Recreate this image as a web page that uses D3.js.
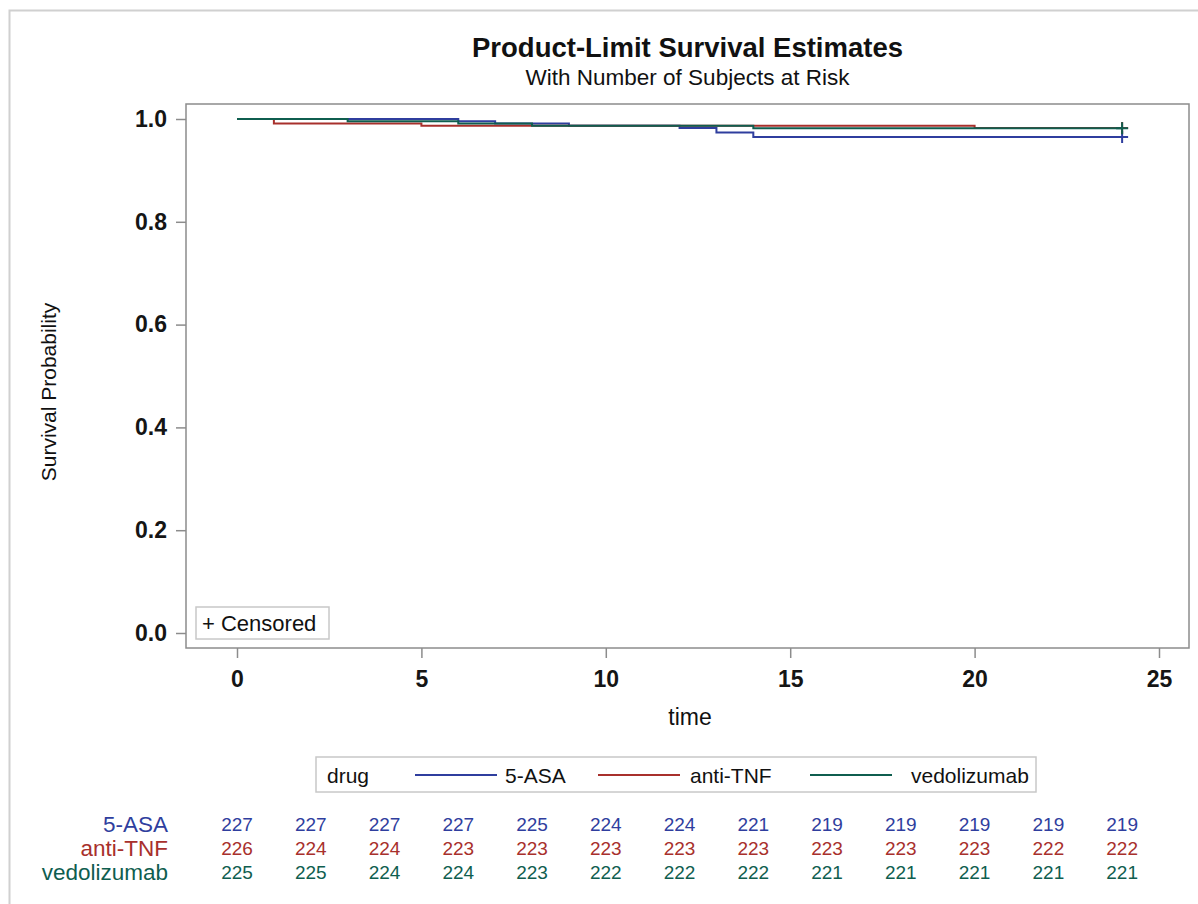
<!DOCTYPE html>
<html lang="en">
    <head>
        <meta charset="UTF-8" />
        <title>Product-Limit Survival Estimates</title>
        <script src="https://cdn.jsdelivr.net/npm/d3@7/dist/d3.min.js"></script>
    </head>
    <body style="padding: 0; margin: 0; background-color: #fff;">
        <script>
            // groups and colours
            const groups = ['5-ASA', 'anti-TNF', 'vedolizumab'];
            const colors = ['#2f3e9e', '#a8302c', '#0f5e4f'];

            // KM step points [time, survival]
            const survASA = [[0, 1], [6, 0.9956], [7, 0.9912], [9, 0.9868], [12, 0.9824], [13, 0.9736], [14, 0.9648], [24, 0.9648]];
            const survTNF = [[0, 1], [1, 0.9912], [5, 0.9868], [20, 0.9824], [24, 0.9824]];
            const survVedo = [[0, 1], [3, 0.9956], [6, 0.9911], [8, 0.9867], [14, 0.9822], [24, 0.9822]];
            const censorTimes = [24, 24, 24];

            // number at risk table
            const riskTimes = [0, 2, 4, 6, 8, 10, 12, 14, 16, 18, 20, 22, 24];
            const riskASA = [227, 227, 227, 227, 225, 224, 224, 221, 219, 219, 219, 219, 219];
            const riskTNF = [226, 224, 224, 223, 223, 223, 223, 223, 223, 223, 223, 222, 222];
            const riskVedo = [225, 225, 224, 224, 223, 222, 222, 222, 221, 221, 221, 221, 221];

            const xTicks = [0, 5, 10, 15, 20, 25];
            const yTicks = [0, 0.2, 0.4, 0.6, 0.8, 1.0];

            const series = [survASA, survTNF, survVedo];
            const risks = [riskASA, riskTNF, riskVedo];

            const font = 'Liberation Sans, Arial, sans-serif';
            const width = 1198;
            const height = 904;
            const plot = { left: 186, right: 1189, top: 104, bottom: 648 };

            const svg = d3
                .select('body')
                .append('svg')
                .attr('width', width)
                .attr('height', height)
                .style('font-family', font);

            // outer frame
            svg.append('rect')
                .attr('x', 9.5)
                .attr('y', 10.5)
                .attr('width', 1300)
                .attr('height', 1000)
                .attr('fill', 'none')
                .attr('stroke', '#d0d0d0')
                .attr('stroke-width', 2);

            const x = d3.scaleLinear().domain([0, 25]).range([237, 1159]);
            const y = d3.scaleLinear().domain([0, 1]).range([633, 119]);

            // titles
            svg.append('text')
                .attr('x', (plot.left + plot.right) / 2)
                .attr('y', 57)
                .attr('text-anchor', 'middle')
                .attr('font-size', 27.5)
                .attr('font-weight', 'bold')
                .attr('fill', '#111')
                .text('Product-Limit Survival Estimates');
            svg.append('text')
                .attr('x', (plot.left + plot.right) / 2)
                .attr('y', 85)
                .attr('text-anchor', 'middle')
                .attr('font-size', 22.5)
                .attr('fill', '#111')
                .text('With Number of Subjects at Risk');

            // axes
            const yAxis = svg.append('g')
                .attr('transform', `translate(${plot.left},0)`)
                .call(d3.axisLeft(y).tickValues(yTicks).tickFormat(d3.format('.1f')).tickSize(10).tickPadding(9));
            const xAxis = svg.append('g')
                .attr('transform', `translate(0,${plot.bottom})`)
                .call(d3.axisBottom(x).tickValues(xTicks).tickSize(10).tickPadding(13));
            [yAxis, xAxis].forEach((g) => {
                g.select('.domain').remove();
                g.selectAll('line').attr('stroke', '#8c8c8c').attr('stroke-width', 1.5);
                g.selectAll('text')
                    .attr('font-family', font)
                    .attr('font-size', 23)
                    .attr('font-weight', 'bold')
                    .attr('fill', '#151515');
            });

            // plot frame
            svg.append('rect')
                .attr('x', plot.left)
                .attr('y', plot.top)
                .attr('width', plot.right - plot.left)
                .attr('height', plot.bottom - plot.top)
                .attr('fill', 'none')
                .attr('stroke', '#8c8c8c')
                .attr('stroke-width', 1.5);

            // axis labels
            svg.append('text')
                .attr('transform', `translate(56,392) rotate(-90)`)
                .attr('text-anchor', 'middle')
                .attr('font-size', 21)
                .attr('fill', '#111')
                .text('Survival Probability');
            svg.append('text')
                .attr('x', 690)
                .attr('y', 725)
                .attr('text-anchor', 'middle')
                .attr('font-size', 23)
                .attr('fill', '#111')
                .text('time');

            // survival curves
            const line = d3.line()
                .x((d) => x(d[0]))
                .y((d) => y(d[1]))
                .curve(d3.curveStepAfter);

            series.forEach((s, i) => {
                svg.append('path')
                    .attr('d', line(s))
                    .attr('fill', 'none')
                    .attr('stroke', colors[i])
                    .attr('stroke-width', 2);
                // censor mark at last time
                const last = s[s.length - 1];
                const cx = x(censorTimes[i]);
                const cy = y(last[1]);
                svg.append('path')
                    .attr('d', `M${cx - 6},${cy}H${cx + 6}M${cx},${cy - 6}V${cy + 6}`)
                    .attr('stroke', colors[i])
                    .attr('stroke-width', 2);
            });

            // censored legend
            svg.append('rect')
                .attr('x', 196)
                .attr('y', 607)
                .attr('width', 133)
                .attr('height', 32)
                .attr('fill', '#fff')
                .attr('stroke', '#c8c8c8')
                .attr('stroke-width', 1.5);
            svg.append('text')
                .attr('x', 202)
                .attr('y', 631)
                .attr('font-size', 22)
                .attr('fill', '#111')
                .text('+ Censored');

            // group legend
            const legend = svg.append('g');
            legend.append('rect')
                .attr('x', 316)
                .attr('y', 757)
                .attr('width', 720)
                .attr('height', 35)
                .attr('fill', '#fff')
                .attr('stroke', '#c8c8c8')
                .attr('stroke-width', 1.5);
            legend.append('text')
                .attr('x', 327)
                .attr('y', 783)
                .attr('font-size', 21)
                .attr('fill', '#111')
                .text('drug');
            const legendX = [415, 598, 810];
            const legendTextX = [505, 690, 911];
            groups.forEach((g, i) => {
                legend.append('line')
                    .attr('x1', legendX[i])
                    .attr('x2', legendX[i] + 82)
                    .attr('y1', 775)
                    .attr('y2', 775)
                    .attr('stroke', colors[i])
                    .attr('stroke-width', 2);
                legend.append('text')
                    .attr('x', legendTextX[i])
                    .attr('y', 783)
                    .attr('font-size', 21)
                    .attr('fill', '#111')
                    .text(g);
            });

            // number at risk table
            const rowY = [824, 848, 872];
            groups.forEach((g, i) => {
                svg.append('text')
                    .attr('x', 168)
                    .attr('y', rowY[i])
                    .attr('dy', '0.35em')
                    .attr('text-anchor', 'end')
                    .attr('font-size', 22.5)
                    .attr('fill', colors[i])
                    .text(g);
                svg.append('g')
                    .selectAll('text')
                    .data(risks[i])
                    .join('text')
                    .attr('x', (d, j) => x(riskTimes[j]))
                    .attr('y', rowY[i])
                    .attr('dy', '0.35em')
                    .attr('text-anchor', 'middle')
                    .attr('font-size', 19)
                    .attr('fill', colors[i])
                    .text((d) => d);
            });
        </script>
    </body>
</html>
